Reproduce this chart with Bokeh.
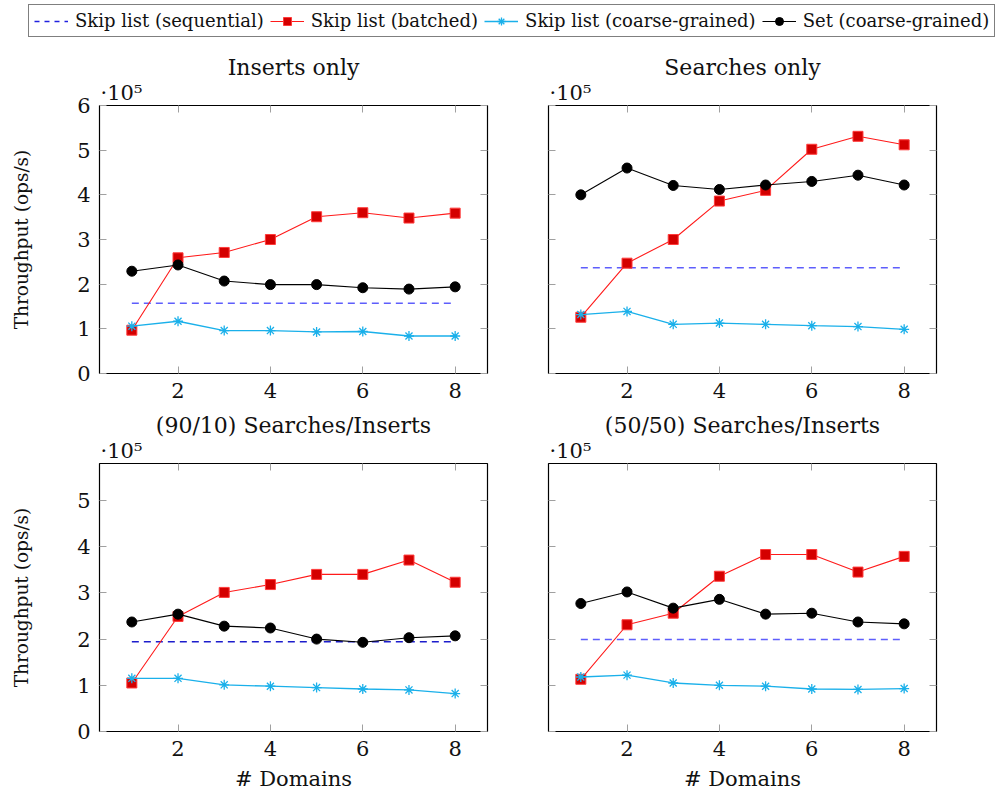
from bokeh.plotting import figure
from bokeh.layouts import column, row
from bokeh.models import Legend, LegendItem, LinearAxis, FixedTicker, Range1d, Title
from bokeh.embed import file_html
from bokeh.resources import INLINE

# ---------------- data (throughput in units of 10^5 ops/s) ----------------
domains = [1, 2, 3, 4, 5, 6, 7, 8]
x_ticks = [2, 4, 6, 8]

titles = ["Inserts only", "Searches only", "(90/10) Searches/Inserts", "(50/50) Searches/Inserts"]
series_names = ["Skip list (sequential)", "Skip list (batched)",
                "Skip list (coarse-grained)", "Set (coarse-grained)"]

ins_seq = [1.57, 1.57, 1.57, 1.57, 1.57, 1.57, 1.57, 1.57]
ins_bat = [0.97, 2.59, 2.71, 3.00, 3.51, 3.60, 3.48, 3.59]
ins_coarse = [1.06, 1.17, 0.96, 0.96, 0.93, 0.94, 0.84, 0.84]
ins_set = [2.29, 2.43, 2.07, 1.99, 1.99, 1.92, 1.89, 1.94]

srch_seq = [2.37, 2.37, 2.37, 2.37, 2.37, 2.37, 2.37, 2.37]
srch_bat = [1.26, 2.47, 3.00, 3.86, 4.10, 5.02, 5.31, 5.12]
srch_coarse = [1.32, 1.39, 1.10, 1.13, 1.10, 1.07, 1.05, 0.99]
srch_set = [4.00, 4.60, 4.21, 4.12, 4.22, 4.30, 4.44, 4.22]

mix90_seq = [1.94, 1.94, 1.94, 1.94, 1.94, 1.94, 1.94, 1.94]
mix90_bat = [1.05, 2.49, 3.01, 3.18, 3.40, 3.40, 3.71, 3.23]
mix90_coarse = [1.15, 1.15, 1.01, 0.98, 0.95, 0.92, 0.90, 0.82]
mix90_set = [2.37, 2.54, 2.28, 2.24, 2.00, 1.93, 2.03, 2.07]

mix50_seq = [1.99, 1.99, 1.99, 1.99, 1.99, 1.99, 1.99, 1.99]
mix50_bat = [1.13, 2.31, 2.56, 3.36, 3.83, 3.83, 3.45, 3.79]
mix50_coarse = [1.18, 1.22, 1.05, 1.00, 0.98, 0.92, 0.91, 0.93]
mix50_set = [2.77, 3.02, 2.67, 2.86, 2.54, 2.56, 2.37, 2.33]

y_ticks_top = [0, 1, 2, 3, 4, 5, 6]
y_ticks_bottom = [0, 1, 2, 3, 4, 5]
scale_label = "\u00b710\u2075"

# ---------------- style ----------------
FONT = "DejaVu Serif"
TXT = "#111111"
RED_LINE = "#ff1a1a"
RED_FILL = "#d40000"
CYAN = "#1ab0ea"
BLUE_LIGHT = "#5e5efc"
BLUE_DARK = "#1c1ccc"
TICK = "#a0a0a0"
FW, FH = 388, 268


def style_axis(ax, ticks, show_labels):
    ax.ticker = FixedTicker(ticks=ticks)
    ax.axis_line_color = None
    ax.major_tick_in = 7
    ax.major_tick_out = 0
    ax.major_tick_line_color = TICK
    ax.major_tick_line_width = 1
    ax.minor_tick_line_color = None
    ax.major_label_text_font = FONT
    if show_labels:
        ax.major_label_text_font_size = "21px"
        ax.major_label_text_color = TXT
        ax.major_label_standoff = 9
    else:
        ax.major_label_text_font_size = "0px"
        ax.major_label_text_color = None
        ax.major_label_standoff = 0


def make_panel(title, seq, bat, coarse, setv, ymax, yticks, left_col, top_row, seq_color):
    p = figure(frame_width=FW, frame_height=FH,
               x_range=Range1d(0.3, 8.7), y_range=Range1d(0, ymax),
               min_border_left=99 if left_col else 40,
               min_border_right=21 if left_col else 56,
               min_border_top=65 if top_row else 60,
               min_border_bottom=30 if top_row else 60,
               output_backend="svg", toolbar_location=None, tools="")
    p.grid.visible = False
    p.outline_line_color = "#000000"
    p.outline_line_width = 1.2
    p.background_fill_color = "white"
    p.border_fill_color = "white"

    xb = p.xaxis[0]
    yl = p.yaxis[0]
    style_axis(xb, x_ticks, True)
    style_axis(yl, yticks, left_col)
    top_ax = LinearAxis()
    style_axis(top_ax, x_ticks, False)
    right_ax = LinearAxis()
    style_axis(right_ax, yticks, False)
    p.add_layout(top_ax, "above")
    p.add_layout(right_ax, "right")

    # scale factor note (·10^5) just above the frame, left aligned
    p.add_layout(Title(text=scale_label, align="left", offset=1, standoff=2,
                       text_font=FONT, text_font_size="21px", text_font_style="normal",
                       text_color=TXT), "above")
    p.title.text = title
    p.title.align = "center"
    p.title.text_font = FONT
    p.title.text_font_size = "22px"
    p.title.text_font_style = "normal"
    p.title.text_color = TXT
    p.title.standoff = -5

    if left_col:
        yl.axis_label = "Throughput (ops/s)"
        yl.axis_label_text_font = FONT
        yl.axis_label_text_font_size = "18.5px"
        yl.axis_label_text_font_style = "normal"
        yl.axis_label_text_color = TXT
        yl.axis_label_standoff = 42
    if not top_row:
        xb.axis_label = "# Domains"
        xb.axis_label_text_font = FONT
        xb.axis_label_text_font_size = "21px"
        xb.axis_label_text_font_style = "normal"
        xb.axis_label_text_color = TXT
        xb.axis_label_standoff = 8

    p.line(domains, seq, line_color=seq_color, line_dash="7 5", line_width=1.5)
    p.line(domains, bat, line_color=RED_LINE, line_width=1.1)
    p.scatter(domains, bat, marker="square", size=10, fill_color=RED_FILL,
              line_color="#ff3b3b", line_width=1)
    p.line(domains, coarse, line_color=CYAN, line_width=1.3)
    p.scatter(domains, coarse, marker="asterisk", size=10, line_color=CYAN, line_width=1.3)
    p.line(domains, setv, line_color="#000000", line_width=1.1)
    p.scatter(domains, setv, marker="circle", size=10, fill_color="#000000", line_color="#000000")
    return p


tl = make_panel(titles[0], ins_seq, ins_bat, ins_coarse, ins_set, 6, y_ticks_top, True, True, BLUE_LIGHT)
tr = make_panel(titles[1], srch_seq, srch_bat, srch_coarse, srch_set, 6, y_ticks_top, False, True, BLUE_LIGHT)
bl = make_panel(titles[2], mix90_seq, mix90_bat, mix90_coarse, mix90_set, 5.8, y_ticks_bottom, True, False, BLUE_DARK)
br = make_panel(titles[3], mix50_seq, mix50_bat, mix50_coarse, mix50_set, 5.8, y_ticks_bottom, False, False, BLUE_LIGHT)

# ---------------- legend strip ----------------
# The legend renderers reuse the first panel's data but the strip's ranges keep
# them out of view, so only their legend glyphs are visible.
lg = figure(width=1000, height=40, output_backend="svg", toolbar_location=None, tools="",
            x_range=Range1d(-100, -99), y_range=Range1d(-100, -99),
            min_border_left=0, min_border_right=0, min_border_top=0, min_border_bottom=0)
lg.axis.visible = False
lg.grid.visible = False
lg.outline_line_color = None
lg.background_fill_color = "white"
lg.border_fill_color = "white"

r_seq = lg.line(domains, ins_seq, line_color="#2020e0", line_dash="5 5", line_width=1.3)
r_bat_l = lg.line(domains, ins_bat, line_color=RED_LINE, line_width=1.1)
r_bat_m = lg.scatter(domains, ins_bat, marker="square", size=10, fill_color=RED_FILL, line_color="#ff3b3b")
r_co_l = lg.line(domains, ins_coarse, line_color=CYAN, line_width=1.3)
r_co_m = lg.scatter(domains, ins_coarse, marker="asterisk", size=10, line_color=CYAN, line_width=1.3)
r_set_l = lg.line(domains, ins_set, line_color="#000000", line_width=1.1)
r_set_m = lg.scatter(domains, ins_set, marker="circle", size=9, fill_color="#000000", line_color="#000000")

legend = Legend(items=[
    LegendItem(label=series_names[0], renderers=[r_seq]),
    LegendItem(label=series_names[1], renderers=[r_bat_l, r_bat_m]),
    LegendItem(label=series_names[2], renderers=[r_co_l, r_co_m]),
    LegendItem(label=series_names[3], renderers=[r_set_l, r_set_m]),
], orientation="horizontal", location=(28, 3), margin=0, padding=5, spacing=6,
    glyph_width=34, glyph_height=20, label_height=20, label_standoff=7,
    label_text_font=FONT, label_text_font_size="18px", label_text_color=TXT,
    border_line_color="#000000", border_line_width=1, background_fill_alpha=1)
lg.add_layout(legend, "center")

layout = column(lg, row(tl, tr), row(bl, br))

with open("out.html", "w") as f:
    f.write(file_html(layout, INLINE))
